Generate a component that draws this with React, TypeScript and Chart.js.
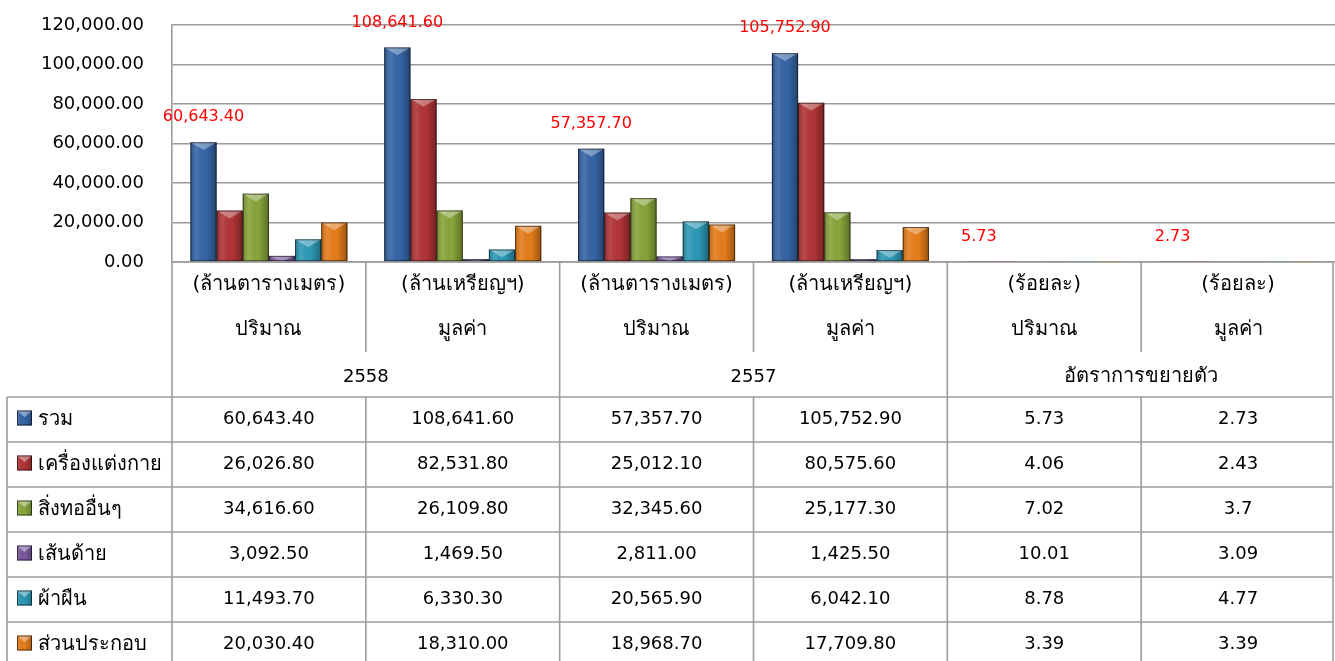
import React, { useEffect, useRef } from "react";
import { Chart, registerables } from "chart.js";

Chart.register(...registerables);

// ---------- data ----------
const unitLabels = ["(ล้านตารางเมตร)", "(ล้านเหรียญฯ)", "(ล้านตารางเมตร)", "(ล้านเหรียญฯ)", "(ร้อยละ)", "(ร้อยละ)"];
const measureLabels = ["ปริมาณ", "มูลค่า", "ปริมาณ", "มูลค่า", "ปริมาณ", "มูลค่า"];
const groupLabels = ["2558", "2557", "อัตราการขยายตัว"];
const categories = unitLabels.map((u, i) => `${measureLabels[i]} ${u}`);

const seriesNames = ["รวม", "เครื่องแต่งกาย", "สิ่งทออื่นๆ", "เส้นด้าย", "ผ้าผืน", "ส่วนประกอบ"];
const totalValues = [60643.4, 108641.6, 57357.7, 105752.9, 5.73, 2.73];
const apparelValues = [26026.8, 82531.8, 25012.1, 80575.6, 4.06, 2.43];
const otherTextileValues = [34616.6, 26109.8, 32345.6, 25177.3, 7.02, 3.7];
const yarnValues = [3092.5, 1469.5, 2811.0, 1425.5, 10.01, 3.09];
const fabricValues = [11493.7, 6330.3, 20565.9, 6042.1, 8.78, 4.77];
const partsValues = [20030.4, 18310.0, 18968.7, 17709.8, 3.39, 3.39];
const seriesValues = [totalValues, apparelValues, otherTextileValues, yarnValues, fabricValues, partsValues];
const seriesColors = ["#3565A6", "#B13436", "#88A53A", "#7A58A0", "#2C98B5", "#E57D1B"];

const yMin = 0;
const yMax = 120000;
const yStep = 20000;

// ---------- helpers ----------
const FONT = "'DejaVu Sans', Tahoma, 'Noto Sans', sans-serif";
const NUM_FONT = `18px ${FONT}`;
const THAI_FONT = `20px ${FONT}`;
const fmt2 = (v: number) =>
  v.toLocaleString("en-US", { minimumFractionDigits: 2, maximumFractionDigits: 2 });
const fmtCell = (v: number, col: number) => (col < 4 ? fmt2(v) : String(v));

function drawMarker(ctx: CanvasRenderingContext2D, x: number, y: number, s: number, color: string) {
  ctx.save();
  ctx.fillStyle = color;
  ctx.fillRect(x, y, s, s);
  const g = ctx.createLinearGradient(x, 0, x + s, 0);
  g.addColorStop(0, "rgba(255,255,255,0.15)");
  g.addColorStop(0.5, "rgba(0,0,0,0)");
  g.addColorStop(1, "rgba(0,0,0,0.25)");
  ctx.fillStyle = g;
  ctx.fillRect(x, y, s, s);
  ctx.fillStyle = "rgba(255,255,255,0.4)";
  ctx.beginPath();
  ctx.moveTo(x, y);
  ctx.lineTo(x + s, y);
  ctx.lineTo(x + s / 2, y + s * 0.45);
  ctx.closePath();
  ctx.fill();
  ctx.strokeStyle = "rgba(0,0,0,0.6)";
  ctx.lineWidth = 1;
  ctx.strokeRect(x + 0.5, y + 0.5, s - 1, s - 1);
  ctx.restore();
}

const excelPlugin = {
  id: "excelLook",
  afterDatasetsDraw(chart: any) {
    const ctx: CanvasRenderingContext2D = chart.ctx;
    ctx.save();
    chart.data.datasets.forEach((_ds: any, di: number) => {
      const meta = chart.getDatasetMeta(di);
      meta.data.forEach((el: any) => {
        const { x, y, base, width } = el.getProps(["x", "y", "base", "width"], true);
        const h = base - y;
        if (h < 0.8) return;
        const left = x - width / 2;
        const g = ctx.createLinearGradient(left, 0, left + width, 0);
        g.addColorStop(0, "rgba(0,0,0,0.2)");
        g.addColorStop(0.25, "rgba(255,255,255,0.1)");
        g.addColorStop(0.6, "rgba(0,0,0,0)");
        g.addColorStop(1, "rgba(0,0,0,0.32)");
        ctx.fillStyle = g;
        ctx.fillRect(left, y, width, h);
        const th = Math.min(width * 0.3, h);
        ctx.fillStyle = "rgba(255,255,255,0.35)";
        ctx.beginPath();
        ctx.moveTo(left, y);
        ctx.lineTo(left + width, y);
        ctx.lineTo(x, y + th);
        ctx.closePath();
        ctx.fill();
        ctx.strokeStyle = "rgba(0,0,0,0.55)";
        ctx.lineWidth = 1;
        ctx.strokeRect(left + 0.5, y + 0.5, width - 1, Math.max(h - 1, 0.5));
      });
    });
    // red value labels for the total series
    const meta0 = chart.getDatasetMeta(0);
    ctx.fillStyle = "#FF0000";
    ctx.font = `16px ${FONT}`;
    ctx.textAlign = "center";
    ctx.textBaseline = "middle";
    meta0.data.forEach((el: any, i: number) => {
      const { x, y } = el.getProps(["x", "y"], true);
      ctx.fillText(fmtCell(totalValues[i], i), x, y - 25);
    });
    ctx.restore();
  },
  afterDraw(chart: any) {
    const ctx: CanvasRenderingContext2D = chart.ctx;
    const area = chart.chartArea;
    const xs = chart.scales.x;
    const n = categories.length;
    const cw = area.width / n;
    const b: number[] = [];
    for (let i = 0; i < n; i++) b.push(xs.getPixelForValue(i) - cw / 2);
    b.push(xs.getPixelForValue(n - 1) + cw / 2);
    const right = Math.min(b[n], chart.width - 2);
    const top = area.bottom;
    const groupTop = 352;
    const dataTop = 397;
    const rowH = 45;
    const leftX = 7;
    const bottom = chart.height;

    ctx.save();
    ctx.strokeStyle = "#9c9c9c";
    ctx.lineWidth = 1.6;
    const line = (x1: number, y1: number, x2: number, y2: number) => {
      ctx.beginPath();
      ctx.moveTo(x1, y1);
      ctx.lineTo(x2, y2);
      ctx.stroke();
    };
    // header lines
    line(b[0], top, right, top);
    line(b[0], top, b[0], bottom);
    for (let i = 1; i < n; i++) {
      if (i % 2 === 1) {
        line(b[i], top, b[i], groupTop);
        line(b[i], dataTop, b[i], bottom);
      } else {
        line(b[i], top, b[i], bottom);
      }
    }
    line(right, top, right, bottom);
    // data rows
    line(leftX, dataTop, leftX, bottom);
    for (let r = 0; r < seriesNames.length; r++) {
      line(leftX, dataTop + r * rowH, right, dataTop + r * rowH);
    }

    // header text
    ctx.fillStyle = "#000";
    ctx.textAlign = "center";
    ctx.textBaseline = "middle";
    for (let i = 0; i < n; i++) {
      const cx = (b[i] + b[i + 1]) / 2;
      ctx.font = THAI_FONT;
      ctx.fillText(unitLabels[i], cx, 285);
      ctx.fillText(measureLabels[i], cx, 330);
    }
    groupLabels.forEach((g, gi) => {
      ctx.font = /^\d+$/.test(g) ? NUM_FONT : THAI_FONT;
      ctx.fillText(g, b[gi * 2 + 1], 377);
    });

    // data rows text
    seriesNames.forEach((name, r) => {
      const cy = dataTop + r * rowH + rowH / 2;
      drawMarker(ctx, 17, cy - 9, 15, seriesColors[r]);
      ctx.textAlign = "left";
      ctx.fillStyle = "#000";
      ctx.font = THAI_FONT;
      ctx.fillText(name, 38, cy);
      ctx.textAlign = "center";
      ctx.font = NUM_FONT;
      seriesValues[r].forEach((v, i) => {
        ctx.fillText(fmtCell(v, i), (b[i] + b[i + 1]) / 2, cy);
      });
    });
    ctx.restore();
  },
};

export default function App() {
  const ref = useRef<HTMLCanvasElement>(null);
  useEffect(() => {
    if (!ref.current) return;
    const chart = new Chart(ref.current, {
      type: "bar",
      data: {
        labels: categories,
        datasets: seriesNames.map((name, i) => ({
          label: name,
          data: seriesValues[i],
          backgroundColor: seriesColors[i],
          borderWidth: 0,
          barPercentage: 1,
          categoryPercentage: 0.81,
        })),
      },
      options: {
        responsive: false,
        animation: false,
        layout: { padding: { top: 25, bottom: 399, left: 0, right: 0 } },
        plugins: { legend: { display: false }, tooltip: { enabled: false } },
        scales: {
          x: { display: false },
          y: {
            min: yMin,
            max: yMax,
            ticks: {
              stepSize: yStep,
              color: "#000",
              padding: 0,
              font: { family: FONT, size: 18 },
              callback: (v: any) => fmt2(Number(v)),
            },
            grid: {
              color: "#9a9a9a",
              lineWidth: 1.6,
              drawTicks: true,
              tickLength: 28,
              tickColor: "rgba(0,0,0,0)",
            },
            border: { display: true, color: "#9a9a9a", width: 1.6 },
            afterFit: (scale: any) => {
              scale.width = 172;
            },
          },
        },
      },
      plugins: [excelPlugin],
    });
    return () => chart.destroy();
  }, []);
  return (
    <div style={{ position: "fixed", left: 0, top: 0, width: 1335, height: 661, background: "#fff" }}>
      <canvas ref={ref} width={1335} height={661} />
    </div>
  );
}
